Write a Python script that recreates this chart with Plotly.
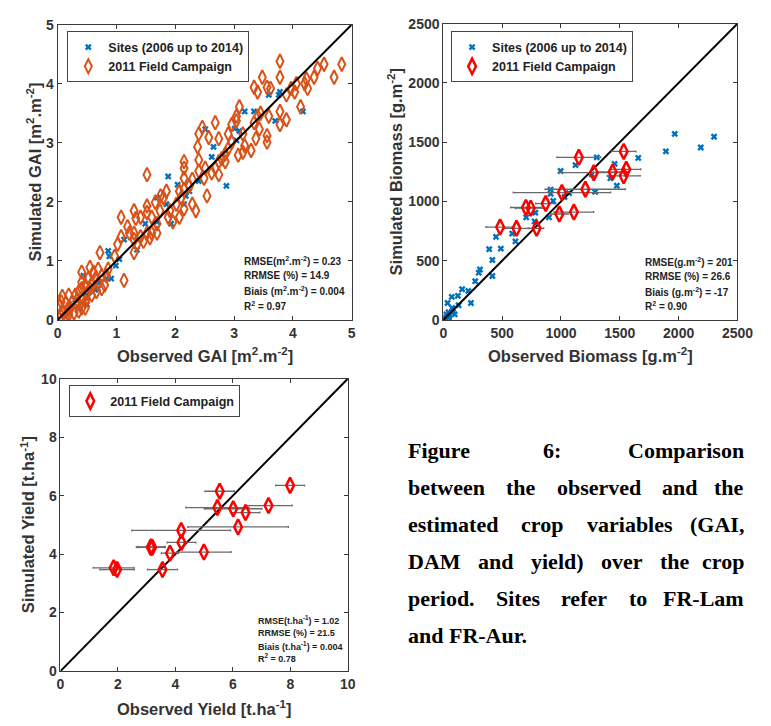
import plotly.graph_objects as go

# ---------------- DATA ----------------
# GAI panel (m2.m-2)
gai_sites_obs = [3.59, 3.78, 3.76, 3.70, 4.17, 3.18, 3.34, 3.01, 3.09, 3.04, 2.62, 2.65, 2.51, 2.87, 2.40,
                 2.24, 2.18, 1.88, 2.04, 2.15, 1.85, 1.93, 1.69, 1.69, 1.49, 1.35, 1.13, 1.05, 0.99, 0.88,
                 0.86, 0.91, 0.83, 0.72, 0.69, 0.55, 0.44, 0.50, 0.41, 0.36, 0.25, 0.17, 0.11, 0.30, 0.64,
                 0.50, 0.50]
gai_sites_sim = [3.81, 3.86, 3.81, 3.37, 3.53, 3.53, 3.53, 3.24, 3.20, 3.04, 2.76, 2.93, 3.23, 2.27, 2.35,
                 2.18, 2.10, 2.43, 2.29, 1.96, 1.96, 1.63, 2.07, 1.66, 1.63, 1.19, 1.36, 1.03, 0.92, 1.08,
                 1.17, 0.70, 0.70, 0.64, 0.53, 0.48, 0.75, 0.26, 0.29, 0.20, 0.23, 0.12, 0.07, 0.34, 0.51,
                 0.37, 0.42]
gai_fc_obs = [4.83, 4.53, 4.42, 4.70, 4.36, 4.23, 4.25, 4.20, 4.06, 3.97, 4.03, 3.89, 4.13, 3.78, 3.78,
              3.48, 3.34, 3.40, 3.56, 3.62, 3.78, 3.89, 3.78, 3.59, 3.56, 3.56, 3.45, 3.40, 3.34, 3.43,
              3.37, 3.29, 3.18, 3.09, 3.04, 3.04, 2.96, 3.15, 3.15, 3.07, 2.96, 2.90, 2.90, 2.85, 2.79,
              2.85, 2.74, 2.74, 2.68, 2.62, 2.68, 2.74, 2.57, 2.46, 2.40, 2.38, 2.40, 2.51, 2.49, 2.54,
              2.40, 2.29, 2.15, 2.15, 2.15, 2.24, 2.15, 2.07, 2.10, 2.02, 2.29, 2.35, 2.15, 2.07, 1.91,
              1.88, 1.96, 1.85, 1.80, 1.75, 1.66, 1.52, 1.74, 1.52, 1.52, 1.60, 1.69, 1.41, 1.30, 1.33,
              1.19, 1.22, 1.30, 1.41, 1.52, 1.60, 1.57, 1.69, 1.46, 1.30, 1.35, 1.08, 1.08, 1.02, 1.30,
              1.13, 0.97, 0.86, 0.83, 0.72, 0.69, 0.55, 0.41, 0.75, 0.64, 0.52, 0.47, 0.58, 0.41, 0.36,
              0.30, 0.19, 0.08, 0.06, 0.14, 0.25, 0.33, 0.17, 0.08, 0.19, 0.28, 0.41, 0.47, 0.58, 0.66,
              0.75, 0.80, 0.41, 0.33, 0.50, 0.55, 0.22, 0.36, 0.14, 0.06, 0.47, 0.03, 0.69, 0.41, 0.61]
gai_fc_sim = [4.33, 4.33, 4.26, 4.11, 4.11, 4.08, 3.92, 4.00, 4.00, 3.92, 3.86, 3.81, 3.61, 4.38, 4.11,
              4.11, 3.94, 3.86, 3.94, 3.92, 3.53, 3.39, 3.31, 3.45, 3.12, 3.01, 3.50, 3.45, 3.34, 3.23,
              3.07, 2.87, 2.95, 3.61, 3.45, 3.37, 3.31, 3.15, 2.84, 2.79, 3.01, 3.15, 2.90, 2.81, 2.73,
              2.68, 2.68, 2.46, 2.57, 2.49, 3.34, 3.07, 3.09, 3.26, 3.15, 2.93, 2.71, 2.57, 2.40, 2.10,
              2.52, 2.38, 2.68, 2.57, 2.40, 2.27, 2.21, 2.18, 2.07, 1.96, 1.96, 1.85, 1.88, 1.74, 1.85,
              1.74, 1.66, 2.18, 2.07, 2.10, 1.99, 2.46, 1.85, 1.93, 1.82, 1.74, 1.63, 1.74, 1.85, 1.72,
              1.58, 1.47, 1.47, 1.41, 1.47, 1.47, 1.39, 1.47, 1.33, 1.36, 1.28, 1.74, 1.41, 1.28, 1.14,
              0.67, 1.08, 0.86, 0.75, 1.14, 0.86, 0.89, 0.81, 0.75, 0.70, 0.70, 0.59, 0.62, 0.53, 0.48,
              0.42, 0.42, 0.40, 0.31, 0.29, 0.31, 0.26, 0.18, 0.15, 0.09, 0.12, 0.20, 0.31, 0.42, 0.48,
              0.53, 0.59, 0.37, 0.34, 0.45, 0.53, 0.20, 0.15, 0.07, 0.07, 0.20, 0.23, 0.62, 0.64, 0.81]

# Biomass panel (g.m-2)
bio_sites_obs = [1967, 1892, 2188, 2301, 1657, 1304, 1124, 997, 1456, 1420, 1475, 1262, 1290, 912, 912,
                 934, 1069, 1030, 898, 704, 782, 776, 586, 613, 448, 390, 489, 417, 417, 312, 301, 271,
                 213, 160, 124, 235, 72, 36, 130, 44, 83, 97, 25, 14, 47, 5, 75, 50]
bio_sites_sim = [1570, 1422, 1455, 1546, 1367, 1372, 1306, 1257, 1317, 1196, 1133, 1229, 1081, 1100, 1064,
                 1004, 1070, 1037, 866, 866, 905, 831, 729, 663, 701, 597, 602, 506, 371, 426, 399, 327,
                 245, 259, 204, 143, 195, 143, 124, 66, 66, 47, 47, 19, 19, 5, 102, 33]
bio_fc_obs = [483, 622, 793, 702, 743, 870, 986, 1008, 1110, 1207, 1152, 1279, 1439, 1533, 1555, 1533]
bio_fc_sim = [784, 773, 773, 949, 943, 982, 894, 1075, 910, 1103, 1372, 1243, 1249, 1422, 1271, 1216]
bio_fc_err = [120, 100, 60, 130, 130, 85, 75, 414, 168, 341, 186, 297, 124, 104, 124, 140]

# Yield panel (t.ha-1)
yld_fc_obs = [5.54, 7.99, 5.46, 6.01, 6.44, 7.24, 6.18, 4.20, 4.21, 3.14, 3.19, 3.16, 3.81, 4.99, 3.55, 1.85, 1.97]
yld_fc_sim = [6.15, 6.35, 5.59, 5.55, 5.42, 5.66, 4.93, 4.81, 4.40, 4.23, 4.23, 4.25, 4.03, 4.07, 3.47, 3.53, 3.47]
yld_fc_err = [0.51, 0.50, 1.10, 1.00, 0.50, 0.82, 1.75, 1.72, 0.50, 0.50, 0.45, 0.48, 0.30, 0.95, 0.52, 0.71, 0.60]

# Axis ticks
gai_ticks = [0, 1, 2, 3, 4, 5]
bio_ticks = [0, 500, 1000, 1500, 2000, 2500]
yld_ticks = [0, 2, 4, 6, 8, 10]

# Statistics text
gai_stats = ["RMSE(m<sup>2</sup>.m<sup>-2</sup>) = 0.23", "RRMSE (%) = 14.9",
             "Biais (m<sup>2</sup>.m<sup>-2</sup>) = 0.004", "R<sup>2</sup> = 0.97"]
bio_stats = ["RMSE(g.m<sup>-2</sup>) = 201", "RRMSE (%) = 26.6",
             "Biais (g.m<sup>-2</sup>) = -17", "R<sup>2</sup> = 0.90"]
yld_stats = ["RMSE(t.ha<sup>-1</sup>) = 1.02", "RRMSE (%) = 21.5",
             "Biais (t.ha<sup>-1</sup>) = 0.004", "R<sup>2</sup> = 0.78"]

caption_lines = ["Figure 6: Comparison",
                 "between the observed and the",
                 "estimated crop variables (GAI,",
                 "DAM and yield) over the crop",
                 "period. Sites refer to FR-Lam",
                 "and FR-Aur."]

# ---------------- STYLE ----------------
W, H = 771, 726
BLUE = "#0072BD"
ORANGE = "#D95319"
RED = "#FF0000"
AXC = "#3a3a3a"
SANS = "Liberation Sans, Arial, sans-serif"
SERIF = "Liberation Serif, Times New Roman, serif"

def px(x):
    return x / W

def py(y):
    return 1 - y / H

# panel boxes in pixels: (left, right, top, bottom)
P1 = (55, 357, 17, 319)
P2 = (451, 753, 16, 319)
P3 = (58, 353, 379, 678)

fig = go.Figure()

XM = dict(symbol="x", size=6, color=BLUE, line=dict(width=0))

# ---- Panel 1: GAI ----
fig.add_trace(go.Scatter(x=gai_sites_obs, y=gai_sites_sim, mode="markers", name="Sites (2006 up to 2014)",
                         marker=XM, xaxis="x", yaxis="y", legend="legend"))
fig.add_trace(go.Scatter(x=gai_fc_obs, y=gai_fc_sim, mode="markers", name="2011 Field Campaign",
                         marker=dict(symbol="diamond-tall-open", size=10, color=ORANGE, line=dict(width=2)),
                         xaxis="x", yaxis="y", legend="legend"))
fig.add_trace(go.Scatter(x=[gai_ticks[0], gai_ticks[-1]], y=[gai_ticks[0], gai_ticks[-1]], mode="lines",
                         line=dict(color="black", width=2), showlegend=False, xaxis="x", yaxis="y"))

# ---- Panel 2: Biomass ----
fig.add_trace(go.Scatter(x=bio_sites_obs, y=bio_sites_sim, mode="markers", name="Sites (2006 up to 2014)",
                         marker=XM, xaxis="x2", yaxis="y2", legend="legend2"))
fig.add_trace(go.Scatter(x=[bio_ticks[0], bio_ticks[-1]], y=[bio_ticks[0], bio_ticks[-1]], mode="lines",
                         line=dict(color="black", width=2), showlegend=False, xaxis="x2", yaxis="y2"))
fig.add_trace(go.Scatter(x=bio_fc_obs, y=bio_fc_sim, mode="markers", showlegend=False,
                         marker=dict(size=1, opacity=0),
                         error_x=dict(type="data", array=bio_fc_err, color="#6a6a6a", thickness=1.3, width=1),
                         xaxis="x2", yaxis="y2"))
fig.add_trace(go.Scatter(x=bio_fc_obs, y=bio_fc_sim, mode="markers", name="2011 Field Campaign",
                         marker=dict(symbol="diamond-tall-open", size=11, color=RED, line=dict(width=2.5)),
                         xaxis="x2", yaxis="y2", legend="legend2"))

# ---- Panel 3: Yield ----
fig.add_trace(go.Scatter(x=[yld_ticks[0], yld_ticks[-1]], y=[yld_ticks[0], yld_ticks[-1]], mode="lines",
                         line=dict(color="black", width=2), showlegend=False, xaxis="x3", yaxis="y3"))
fig.add_trace(go.Scatter(x=yld_fc_obs, y=yld_fc_sim, mode="markers", showlegend=False,
                         marker=dict(size=1, opacity=0),
                         error_x=dict(type="data", array=yld_fc_err, color="#6a6a6a", thickness=1.3, width=1),
                         xaxis="x3", yaxis="y3"))
fig.add_trace(go.Scatter(x=yld_fc_obs, y=yld_fc_sim, mode="markers", name="2011 Field Campaign",
                         marker=dict(symbol="diamond-tall-open", size=11, color=RED, line=dict(width=2.5)),
                         xaxis="x3", yaxis="y3", legend="legend3"))

tickfont = dict(family=SANS, size=14, color="#333333", weight="bold")

def axis(dom, ticks, anchor):
    return dict(domain=dom, range=[ticks[0], ticks[-1]], tickvals=ticks, ticktext=[str(t) for t in ticks],
                showgrid=False, zeroline=False, showline=True, linecolor=AXC, linewidth=1,
                mirror="ticks", ticks="inside", ticklen=4, tickcolor=AXC, tickfont=tickfont,
                anchor=anchor, fixedrange=True)

def legend_box(x, y):
    return dict(x=px(x), y=py(y), xanchor="left", yanchor="top", bgcolor="white",
                bordercolor="#444444", borderwidth=1,
                font=dict(family=SANS, size=12.5, color="#222222", weight="bold"),
                itemsizing="trace", tracegroupgap=0)

layout = dict(
    width=W, height=H, margin=dict(l=0, r=0, t=0, b=0),
    paper_bgcolor="white", plot_bgcolor="white",
    xaxis=axis([px(P1[0]), px(P1[1])], gai_ticks, "y"),
    yaxis=axis([py(P1[3]), py(P1[2])], gai_ticks, "x"),
    xaxis2=axis([px(P2[0]), px(P2[1])], bio_ticks, "y2"),
    yaxis2=axis([py(P2[3]), py(P2[2])], bio_ticks, "x2"),
    xaxis3=axis([px(P3[0]), px(P3[1])], yld_ticks, "y3"),
    yaxis3=axis([py(P3[3]), py(P3[2])], yld_ticks, "x3"),
    legend=legend_box(65, 24),
    legend2=legend_box(459, 24),
    legend3=legend_box(67, 386),
    showlegend=True,
)
fig.update_layout(**layout)

ann = []
titlefont = dict(family=SANS, size=16.5, color="#333333", weight="bold")

def title(text, x, y, angle=0):
    ann.append(dict(text=text, x=px(x), y=py(y), xref="paper", yref="paper", showarrow=False,
                    font=titlefont, textangle=angle, xanchor="center", yanchor="middle"))

# axis titles
title("Observed GAI [m<sup>2</sup>.m<sup>-2</sup>]", (P1[0] + P1[1]) / 2, 355)
title("Simulated GAI [m<sup>2</sup>.m<sup>-2</sup>]", 31, (P1[2] + P1[3]) / 2, -90)
title("Observed Biomass [g.m<sup>-2</sup>]", (P2[0] + P2[1]) / 2, 355)
title("Simulated Biomass [g.m<sup>-2</sup>]", 401, (P2[2] + P2[3]) / 2, -90)
title("Observed Yield [t.ha<sup>-1</sup>]", (P3[0] + P3[1]) / 2, 716)
title("Simulated Yield [t.ha<sup>-1</sup>]", 24, (P3[2] + P3[3]) / 2, -90)

# stats
def stats(lines, x0, ys, size):
    for t, yy in zip(lines, ys):
        ann.append(dict(text=t, x=px(x0), y=py(yy), xref="paper", yref="paper", showarrow=False,
                        xanchor="left", yanchor="middle",
                        font=dict(family=SANS, size=size, color="#222222", weight="bold")))

stats(gai_stats, 244, [259, 274, 289, 305], 10)
stats(bio_stats, 656, [260, 275, 290, 305], 10)
stats(yld_stats, 259, [626, 639, 652, 665], 9)

# caption (justified)
TB = {'a': 500, 'b': 556, 'c': 444, 'd': 556, 'e': 444, 'f': 333, 'g': 500, 'h': 556, 'i': 278, 'j': 333,
      'k': 556, 'l': 278, 'm': 833, 'n': 556, 'o': 500, 'p': 556, 'q': 556, 'r': 444, 's': 389, 't': 333,
      'u': 556, 'v': 500, 'w': 722, 'x': 500, 'y': 500, 'z': 444, 'A': 722, 'C': 722, 'D': 722, 'F': 611,
      'G': 778, 'I': 389, 'L': 667, 'M': 944, 'R': 722, 'S': 556, '6': 500, ':': 333, ',': 250, '.': 250,
      '(': 333, ')': 333, '-': 333}
CAP_SIZE = 22
def wwidth(w):
    return sum(TB.get(c, 500) for c in w) / 1000 * CAP_SIZE

cap_left, cap_right = 413, 762
cap_y0, cap_dy = 452, 38
capfont = dict(family=SERIF, size=CAP_SIZE, color="black", weight="bold")
for i, line in enumerate(caption_lines):
    y = cap_y0 + i * cap_dy
    words = line.split(" ")
    if i == len(caption_lines) - 1:
        ann.append(dict(text=line, x=px(cap_left), y=py(y), xref="paper", yref="paper", showarrow=False,
                        xanchor="left", yanchor="middle", font=capfont))
        continue
    widths = [wwidth(w) for w in words]
    gap = (cap_right - cap_left - sum(widths)) / (len(words) - 1)
    xcur = cap_left
    for j, (w, ww) in enumerate(zip(words, widths)):
        if j == len(words) - 1:
            ann.append(dict(text=w, x=px(cap_right), y=py(y), xref="paper", yref="paper", showarrow=False,
                            xanchor="right", yanchor="middle", font=capfont))
        else:
            ann.append(dict(text=w, x=px(xcur), y=py(y), xref="paper", yref="paper", showarrow=False,
                            xanchor="left", yanchor="middle", font=capfont))
        xcur += ww + gap

fig.update_layout(annotations=ann)
fig.write_html("out.html")
